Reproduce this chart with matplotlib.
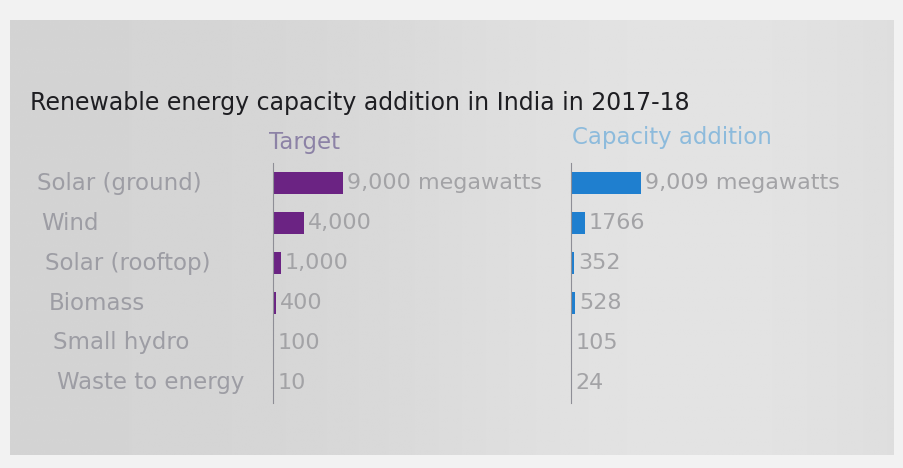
import numpy as np
import matplotlib.pyplot as plt
from matplotlib.transforms import blended_transform_factory

# Datos: capacidad renovable en India 2017-18 (megawatts)
categories = ['Solar (ground)', 'Wind', 'Solar (rooftop)', 'Biomass', 'Small hydro', 'Waste to energy']
target = [9000, 4000, 1000, 400, 100, 10]
added = [9009, 1766, 352, 528, 105, 24]
target_labels = ['9,000 megawatts', '4,000', '1,000', '400', '100', '10']
added_labels = ['9,009 megawatts', '1766', '352', '528', '105', '24']

W, H = 904, 468
fig = plt.figure(figsize=(W / 100, H / 100), dpi=100)
fig.patch.set_facecolor('#f2f2f2')

# Panel de fondo con un degradado suave
bg = fig.add_axes([10 / W, 13 / H, 884 / W, 435 / H])
bg.set_axis_off()
xs = np.linspace(0, 1, 300)
shade = 0.83 + 0.06 * np.exp(-((xs - 0.78) / 0.35) ** 2)
grad = np.tile(shade, (40, 1))
bg.imshow(grad, cmap='gray', vmin=0, vmax=1, aspect='auto', extent=[0, 1, 0, 1])

fig.text(30 / W, 1 - 103 / H, 'Renewable energy capacity addition in India in 2017-18',
         fontsize=17, color='#1e1e22', fontweight='medium', va='center', ha='left')
fig.text(305 / W, 1 - 142 / H, 'Target', fontsize=16.5, color='#8c82a6', ha='center', va='center')
fig.text(572 / W, 1 - 137 / H, 'Capacity addition', fontsize=16.5, color='#8dbbdc', ha='left', va='center')

px_per_mw = 70 / 9000  # escala comun para ambos paneles
row_top, row_bottom = 163, 403


def bar_panel(x0, width_px, values, labels, color):
    ax = fig.add_axes([x0 / W, 1 - row_bottom / H, width_px / W, (row_bottom - row_top) / H])
    ax.set_facecolor('none')
    y = np.arange(len(values))
    ax.barh(y, values, height=0.55, color=color)
    ax.set_xlim(0, width_px / px_per_mw)
    ax.set_ylim(len(values) - 0.5, -0.5)
    for s in ['top', 'right', 'bottom']:
        ax.spines[s].set_visible(False)
    ax.spines['left'].set_color('#8e8e96')
    ax.spines['left'].set_linewidth(0.8)
    ax.set_xticks([])
    ax.set_yticks([])
    for yi, v, lab in zip(y, values, labels):
        ax.annotate(lab, (v, yi), xytext=(3, 0), textcoords='offset points',
                    va='center', ha='left', fontsize=16, color='#a3a3a6')
    return ax


ax_t = bar_panel(273, 285, target, target_labels, '#6b2383')
ax_a = bar_panel(571, 310, added, added_labels, '#1f7fcf')

# Etiquetas de categorias
trans = blended_transform_factory(fig.transFigure, ax_t.transData)
for i, name in enumerate(categories):
    ax_t.text((37 + 4 * i) / W, i, name, transform=trans, ha='left', va='center',
              fontsize=16.5, color='#9d9da4')

fig.savefig('out.png', dpi=100, facecolor=fig.get_facecolor())
